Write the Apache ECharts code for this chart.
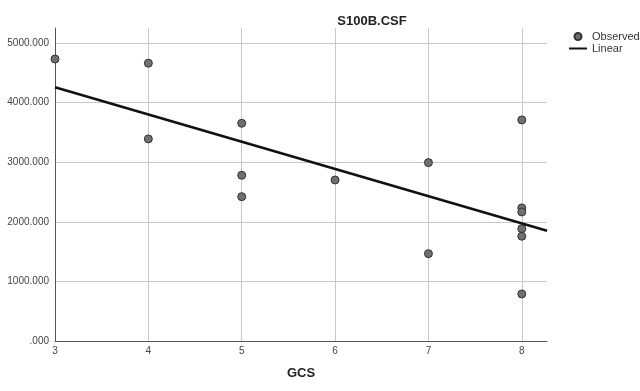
<!DOCTYPE html>
<html><head><meta charset="utf-8">
<script src="https://cdn.jsdelivr.net/npm/echarts@6/dist/echarts.min.js"></script>
<style>html,body{margin:0;padding:0;background:#fff}#c{width:640px;height:391px}</style>
</head><body><div id="c"></div>
<script>
const gcs   = [3, 4, 4, 5, 5, 5, 6, 7, 7, 8, 8, 8, 8, 8, 8];
const s100b = [4730, 4660, 3390, 3652, 2780, 2421, 2701, 2992, 1465, 3708, 2232, 2164, 1884, 1757, 789];
const fitX = [3, 8.27];
const fitY = [4255, 1850];
const xTicks = [3, 4, 5, 6, 7, 8];
const yTicks = [0, 1000, 2000, 3000, 4000, 5000];

const chart = echarts.init(document.getElementById('c'), null, {renderer: 'canvas'});
const font = 'Liberation Sans, Arial, sans-serif';
chart.setOption({
  animation: false,
  title: {text: 'S100B.CSF', left: 367, top: 10, textAlign: 'center',
    textStyle: {fontFamily: font, fontSize: 13, fontWeight: 'bold', color: '#222'}},
  legend: {orient: 'vertical', left: 564, top: 26, itemWidth: 18, itemHeight: 7, itemGap: 1,
    textStyle: {fontFamily: font, fontSize: 11, color: '#333'},
    data: [{name: 'Observed', icon: 'circle'},
           {name: 'Linear', icon: 'path://M0,0H18V2H0Z', itemStyle: {color: '#111'}}]},
  grid: {left: 55, right: 93, top: 28, bottom: 50},
  xAxis: {type: 'value', min: 3, max: 8.27, interval: 1, name: 'GCS', nameLocation: 'middle', nameGap: 26,
    nameTextStyle: {fontFamily: font, fontSize: 13, fontWeight: 'bold', color: '#222'},
    axisLine: {lineStyle: {color: '#555', width: 1}}, axisTick: {show: false},
    axisLabel: {fontFamily: font, fontSize: 10, color: '#444', margin: 5, showMaxLabel: false,
      formatter: v => xTicks.includes(Math.round(v*100)/100) ? String(v) : ''},
    splitLine: {show: true, showMinLine: false, showMaxLine: false, lineStyle: {color: '#c8c8c8', width: 1}}},
  yAxis: {type: 'value', min: 0, max: 5250, interval: 1000,
    axisLine: {show: true, lineStyle: {color: '#555', width: 1}}, axisTick: {show: false},
    axisLabel: {fontFamily: font, fontSize: 10, color: '#444', margin: 6, showMaxLabel: false,
      formatter: v => yTicks.includes(v) ? (v === 0 ? '.000' : v.toFixed(3)) : ''},
    splitLine: {show: true, showMinLine: false, showMaxLine: false, lineStyle: {color: '#c8c8c8', width: 1}}},
  series: [
    {name: 'Observed', type: 'scatter', symbol: 'circle', symbolSize: 8,
      itemStyle: {color: '#707070', borderColor: '#333', borderWidth: 1, opacity: 1},
      data: gcs.map((x, i) => [x, s100b[i]])},
    {name: 'Linear', type: 'line', symbol: 'none', color: '#111',
      lineStyle: {color: '#111', width: 2.5},
      data: fitX.map((x, i) => [x, fitY[i]])}
  ]
});
</script></body></html>
